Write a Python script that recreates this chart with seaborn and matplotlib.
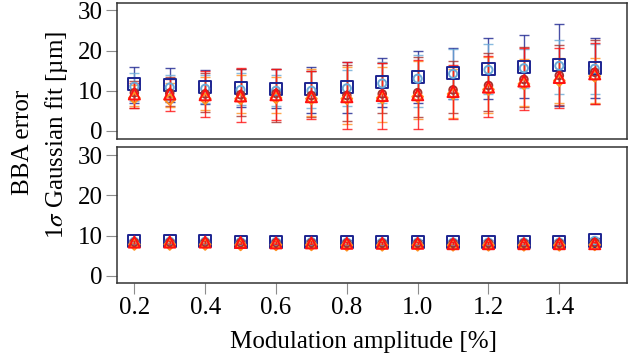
import numpy as np
import pandas as pd
import matplotlib
matplotlib.use('Agg')
import matplotlib.pyplot as plt
import seaborn as sns

# ---------------------------------------------------------------
# data
# ---------------------------------------------------------------
amplitude = [0.2, 0.3, 0.4, 0.5, 0.6, 0.7, 0.8, 0.9, 1.0, 1.1, 1.2, 1.3, 1.4, 1.5]
series_order = ['A', 'B', 'C', 'D', 'E']

# top panel: centre value, lower end, upper end of error bar
top_A = [11.6, 11.4, 10.9, 10.6, 10.4, 10.4, 10.9, 12.2, 13.4, 14.5, 15.4, 16.0, 16.4, 15.7]
top_A_lo = [7.0, 7.3, 6.7, 6.0, 5.7, 4.5, 4.5, 6.0, 6.9, 8.0, 7.9, 8.3, 6.2, 8.1]
top_A_hi = [16.0, 15.7, 15.2, 15.5, 15.4, 16.0, 17.2, 18.1, 20.0, 20.7, 23.2, 24.0, 26.6, 23.2]

top_B = [11.0, 10.8, 10.5, 10.2, 10.0, 10.0, 10.6, 11.8, 13.0, 14.2, 15.2, 15.6, 16.2, 15.5]
top_B_lo = [7.5, 7.8, 7.0, 6.5, 6.2, 5.8, 6.2, 6.9, 6.0, 8.0, 9.1, 10.6, 9.2, 9.1]
top_B_hi = [14.5, 14.0, 14.0, 14.5, 14.0, 15.0, 15.2, 17.2, 18.9, 20.5, 21.6, 20.4, 22.6, 21.6]

top_C = [9.5, 9.4, 9.2, 9.0, 9.3, 8.8, 8.8, 9.2, 9.5, 10.2, 11.3, 12.8, 13.8, 14.6]
top_C_lo = [5.7, 6.2, 4.8, 3.8, 2.3, 3.5, 2.5, 4.5, 3.5, 4.5, 5.0, 6.0, 6.5, 6.7]
top_C_hi = [12.5, 13.3, 14.5, 15.5, 15.4, 14.8, 16.5, 17.0, 18.5, 17.5, 19.5, 21.0, 21.5, 22.6]

top_D = [8.2, 7.8, 8.0, 8.0, 8.2, 8.0, 8.0, 8.2, 8.5, 9.2, 10.3, 11.7, 12.5, 13.6]
top_D_lo = [6.2, 5.9, 5.2, 4.4, 4.4, 3.8, 1.7, 2.3, 3.0, 3.2, 4.4, 6.2, 7.0, 7.0]
top_D_hi = [11.5, 12.0, 13.5, 14.0, 13.5, 15.5, 16.0, 16.0, 17.5, 15.5, 18.5, 18.0, 18.1, 18.1]

top_E = [9.2, 9.2, 9.0, 8.7, 9.0, 8.5, 8.5, 8.8, 9.0, 9.8, 10.9, 12.4, 13.3, 14.2]
top_E_lo = [5.7, 5.0, 3.5, 2.3, 2.8, 3.0, 0.5, 0.5, 0.4, 3.0, 3.4, 5.2, 5.7, 6.7]
top_E_hi = [12.0, 13.0, 14.8, 15.6, 15.5, 15.0, 17.2, 16.8, 17.7, 16.4, 18.7, 20.7, 20.7, 21.8]

# bottom panel
bot_A = [8.6, 8.6, 8.6, 8.5, 8.5, 8.5, 8.4, 8.4, 8.4, 8.4, 8.4, 8.4, 8.4, 8.8]
bot_B = [8.5, 8.5, 8.5, 8.4, 8.4, 8.4, 8.3, 8.3, 8.3, 8.3, 8.3, 8.3, 8.3, 8.7]
bot_C = [8.3, 8.3, 8.3, 8.2, 8.2, 8.2, 8.1, 8.1, 8.1, 8.1, 8.1, 8.1, 8.1, 8.3]
bot_D = [7.8, 7.8, 7.8, 7.7, 7.7, 7.7, 7.6, 7.6, 7.6, 7.6, 7.6, 7.6, 7.6, 7.7]
bot_E = [8.4, 8.4, 8.4, 8.3, 8.2, 8.2, 8.1, 8.1, 8.1, 8.0, 8.0, 8.0, 8.0, 8.0]
bot_err = [0.4, 0.4, 0.4, 0.4, 0.4, 0.4, 0.4, 0.4, 0.4, 0.4, 0.4, 0.4, 0.4, 0.5]

x_ticks = [0.2, 0.4, 0.6, 0.8, 1.0, 1.2, 1.4]
y_ticks = [0, 10, 20, 30]

# ---------------------------------------------------------------
# long table
# ---------------------------------------------------------------
rows = []
top_vals = {'A': (top_A, top_A_lo, top_A_hi), 'B': (top_B, top_B_lo, top_B_hi),
            'C': (top_C, top_C_lo, top_C_hi), 'D': (top_D, top_D_lo, top_D_hi),
            'E': (top_E, top_E_lo, top_E_hi)}
bot_vals = {'A': bot_A, 'B': bot_B, 'C': bot_C, 'D': bot_D, 'E': bot_E}
for name in series_order:
    v, lo, hi = top_vals[name]
    for i, a in enumerate(amplitude):
        rows.append(dict(panel='top', series=name, amplitude=a, value=v[i], lo=lo[i], hi=hi[i]))
    for i, a in enumerate(amplitude):
        b = bot_vals[name][i]
        rows.append(dict(panel='bottom', series=name, amplitude=a, value=b,
                         lo=b - bot_err[i], hi=b + bot_err[i]))
df = pd.DataFrame(rows)

# ---------------------------------------------------------------
# style
# ---------------------------------------------------------------
sns.set_theme(style='ticks')
plt.rcParams['font.family'] = ['Liberation Serif', 'DejaVu Serif']
plt.rcParams['mathtext.fontset'] = 'stix'
plt.rcParams['text.color'] = 'black'

palette = {'A': '#1c2490', 'B': '#6aaad8', 'C': '#a8322d', 'D': '#ff9020', 'E': '#ff1010'}
markers = {'A': 's', 'B': 'o', 'C': 'o', 'D': 'D', 'E': '^'}
marker_sizes = {'A': 76, 'B': 34, 'C': 30, 'D': 30, 'E': 64}
FS = 18

fig = plt.figure(figsize=(6.39, 3.58), dpi=100)
ax_top = fig.add_axes([0.1831, 0.611, 0.7986, 0.380])
ax_bot = fig.add_axes([0.1831, 0.2103, 0.7986, 0.380])

for ax, panel, ylim in [(ax_top, 'top', (-2.1, 31.8)), (ax_bot, 'bottom', (-1.7, 32.1))]:
    d = df[df['panel'] == panel]
    for name in series_order:
        s = d[d['series'] == name]
        ax.errorbar(s['amplitude'], s['value'],
                    yerr=[s['value'] - s['lo'], s['hi'] - s['value']],
                    fmt='none', ecolor=palette[name], elinewidth=1.0,
                    capsize=3.6, capthick=1.0, alpha=0.8, zorder=2)
    sns.scatterplot(data=d, x='amplitude', y='value', hue='series', style='series',
                    size='series', sizes=marker_sizes, size_order=series_order,
                    hue_order=series_order, style_order=series_order,
                    palette=palette, markers=markers, linewidth=1.4,
                    legend=False, ax=ax, zorder=3)
    # hollow markers
    coll = ax.collections[-1]
    fc = coll.get_facecolors().copy()
    coll.set_edgecolors(fc)
    coll.set_facecolors('none')

    ax.set_xlim(0.151, 1.592)
    ax.set_ylim(*ylim)
    ax.set_yticks(y_ticks)
    ax.set_xticks(x_ticks)
    ax.set_xlabel('')
    ax.set_ylabel('')
    ax.tick_params(axis='both', direction='out', length=8.2, width=0.8,
                   color='#8c8c8c', labelcolor='black', labelsize=FS, pad=2)
    for sp in ax.spines.values():
        sp.set_visible(True)
        sp.set_color('#333333')
        sp.set_linewidth(1.1)

ax_top.tick_params(axis='x', bottom=False, labelbottom=False)
ax_bot.set_xticklabels(['0.2', '0.4', '0.6', '0.8', '1.0', '1.2', '1.4'])

fig.text(23 / 639, 1 - 142 / 358, 'BBA error', rotation=90,
         ha='center', va='center', fontsize=FS)
fig.text(57 / 639, 1 - 135 / 358, '1$\\sigma$ Gaussian fit [µm]', rotation=90,
         ha='center', va='center', fontsize=FS)
fig.text(363.5 / 639, 1 - 348 / 358, 'Modulation amplitude [%]',
         ha='center', va='baseline', fontsize=FS)

fig.savefig('out.png', dpi=100)
